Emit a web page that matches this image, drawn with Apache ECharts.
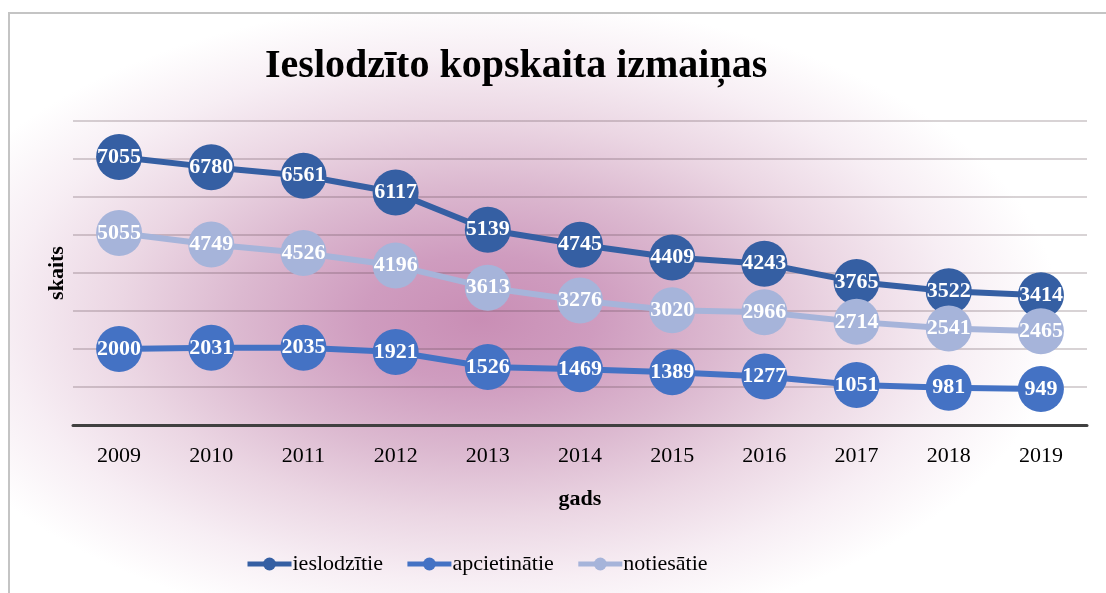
<!DOCTYPE html>
<html>
<head>
<meta charset="utf-8">
<script src="https://cdn.jsdelivr.net/npm/echarts@6/dist/echarts.min.js"></script>
<style>
  html, body { margin: 0; padding: 0; overflow: hidden; background: #fff; }
  .wrap {
    position: relative; width: 1106px; height: 593px; overflow: hidden;
    background: #fff;
  }
  .frame {
    position: absolute; left: 8px; top: 12px; width: 1300px; height: 800px;
    border: 2px solid #c4c4c4;
    background: radial-gradient(ellipse 580px 320px at 470px 305px,
      #c98eb5 0%, #cf9cbf 20%, #dcb9d0 42%, #ebd6e3 62%, #f7eef4 82%, #ffffff 100%);
  }
  #chart { position: absolute; left: 0; top: 0; width: 1106px; height: 593px; }
</style>
</head>
<body>
<div class="wrap">
  <div class="frame"></div>
  <div id="chart"></div>
</div>
<script>
const years = ['2009', '2010', '2011', '2012', '2013', '2014', '2015', '2016', '2017', '2018', '2019'];
const ieslodzitie = [7055, 6780, 6561, 6117, 5139, 4745, 4409, 4243, 3765, 3522, 3414];
const apcietinatie = [2000, 2031, 2035, 1921, 1526, 1469, 1389, 1277, 1051, 981, 949];
const notiesatie = [5055, 4749, 4526, 4196, 3613, 3276, 3020, 2966, 2714, 2541, 2465];

const serif = "'Liberation Serif', 'Times New Roman', serif";

function lineSeries(name, data, color) {
  return {
    name: name,
    type: 'line',
    data: data,
    symbol: 'circle',
    symbolSize: 46,
    lineStyle: { width: 6, color: color },
    itemStyle: { color: color },
    label: {
      show: true,
      position: 'inside',
      color: '#fff',
      fontFamily: serif,
      fontWeight: 'bold',
      fontSize: 22
    },
    emphasis: { disabled: true }
  };
}

const chart = echarts.init(document.getElementById('chart'));
chart.setOption({
  animation: false,
  backgroundColor: 'transparent',
  title: {
    text: 'Ieslodzīto kopskaita izmaiņas',
    left: 260,
    top: 42,
    textStyle: { fontFamily: serif, fontWeight: 'bold', fontSize: 40, color: '#000' }
  },
  legend: {
    left: 245,
    top: 553,
    padding: 0,
    itemWidth: 44,
    itemHeight: 16,
    itemGap: 22,
    lineStyle: { width: 5 },
    textStyle: { fontFamily: serif, fontSize: 22, color: '#000', padding: [0, 0, 0, -4] },
    data: ['ieslodzītie', 'apcietinātie', 'notiesātie']
  },
  grid: { left: 73, right: 19, top: 121, bottom: 168 },
  xAxis: {
    type: 'category',
    data: years,
    boundaryGap: true,
    name: 'gads',
    nameLocation: 'middle',
    nameGap: 63,
    nameTextStyle: { fontFamily: serif, fontWeight: 'bold', fontSize: 22, color: '#000' },
    axisLine: { lineStyle: { color: '#404040', width: 3 } },
    axisTick: { show: false },
    axisLabel: { fontFamily: serif, fontSize: 22, color: '#000', margin: 20 }
  },
  yAxis: {
    type: 'value',
    min: 0,
    max: 8000,
    interval: 1000,
    name: 'skaits',
    nameLocation: 'middle',
    nameRotate: 90,
    nameGap: 5,
    nameTextStyle: { fontFamily: serif, fontWeight: 'bold', fontSize: 22, color: '#000' },
    axisLine: { show: false },
    axisTick: { show: false },
    axisLabel: { show: false },
    splitLine: { lineStyle: { color: 'rgba(80, 60, 70, 0.3)', width: 1.5 } }
  },
  series: [
    lineSeries('ieslodzītie', ieslodzitie, '#355fa3'),
    lineSeries('apcietinātie', apcietinatie, '#4472c4'),
    lineSeries('notiesātie', notiesatie, '#a6b4da')
  ]
});
</script>
</body>
</html>
